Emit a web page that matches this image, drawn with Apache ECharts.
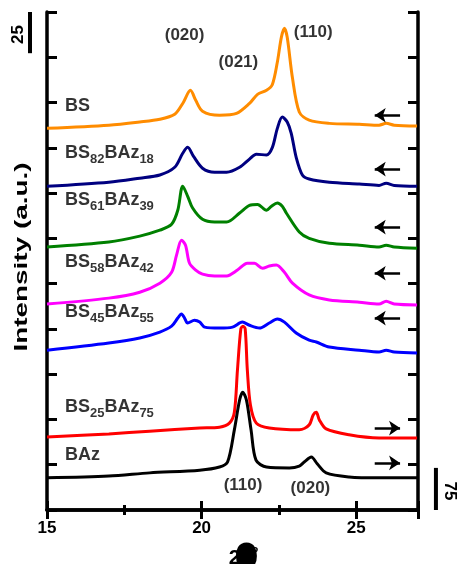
<!DOCTYPE html>
<html>
<head>
<meta charset="utf-8">
<script src="https://cdn.jsdelivr.net/npm/echarts@6/dist/echarts.min.js"></script>
<style>
  html, body { margin: 0; padding: 0; background: #fff; }
  #chart { width: 458px; height: 564px; }
</style>
</head>
<body>
<div id="chart"></div>
<script>
// XRD patterns, [2θ, intensity (a.u., offset)] per sample
const patternBS = [
  [15.00, 84.3], [17.00, 85.0], [18.00, 85.7], [18.65, 86.3], [19.13, 87.4], [19.39, 89.8],
  [19.64, 92.7], [19.81, 90.5], [20.03, 88.1], [20.58, 87.2], [21.13, 87.6], [21.55, 89.8],
  [21.81, 91.8], [22.10, 92.7], [22.29, 94.0], [22.45, 98.9], [22.58, 104.4], [22.68, 106.4],
  [22.77, 104.4], [22.94, 95.4], [23.16, 87.9], [23.48, 86.1], [24.13, 85.4], [25.10, 85.2],
  [25.74, 85.0], [25.97, 85.4], [26.23, 85.0], [26.97, 84.8]
];
const patternBS82 = [
  [15.00, 71.5], [17.00, 72.4], [18.00, 73.3], [18.65, 74.0], [19.13, 75.7], [19.39, 78.8],
  [19.55, 80.1], [19.74, 78.1], [20.03, 75.5], [20.42, 74.6], [20.81, 74.6], [21.23, 75.7],
  [21.55, 77.5], [21.77, 78.6], [22.10, 78.4], [22.29, 80.1], [22.45, 84.3], [22.61, 86.8],
  [22.77, 85.7], [22.90, 83.2], [23.06, 77.9], [23.26, 74.0], [23.48, 73.1], [24.13, 72.4],
  [25.10, 72.0], [25.74, 71.7], [25.97, 72.2], [26.23, 71.7], [26.97, 71.5]
];
const patternBS61 = [
  [15.00, 58.1], [17.00, 59.2], [18.00, 60.5], [18.65, 61.8], [19.03, 63.1], [19.23, 66.2],
  [19.39, 71.5], [19.55, 69.3], [19.71, 66.7], [20.03, 64.2], [20.42, 63.6], [20.81, 63.6],
  [21.23, 65.6], [21.55, 67.3], [21.81, 67.5], [22.10, 66.2], [22.26, 67.1], [22.45, 67.8],
  [22.61, 67.1], [22.74, 65.6], [23.16, 61.4], [23.48, 60.0], [24.13, 58.9], [25.10, 58.5],
  [25.74, 58.1], [25.97, 58.5], [26.23, 58.1], [26.97, 57.8]
];
const patternBS58 = [
  [15.00, 45.5], [17.00, 46.8], [18.00, 48.1], [18.65, 50.1], [19.03, 52.5], [19.19, 56.3],
  [19.35, 59.6], [19.48, 58.5], [19.61, 54.5], [19.81, 53.0], [20.03, 52.1], [20.42, 51.7],
  [20.81, 51.7], [21.16, 53.0], [21.48, 54.5], [21.71, 54.5], [21.97, 53.4], [22.19, 53.9],
  [22.42, 54.1], [22.68, 52.5], [22.94, 50.1], [23.48, 47.5], [24.13, 46.4], [25.10, 45.9],
  [25.74, 45.5], [25.97, 46.1], [26.23, 45.5], [26.97, 45.3]
];
const patternBS45 = [
  [15.00, 35.3], [17.00, 36.9], [18.00, 38.0], [18.65, 39.3], [19.03, 40.6], [19.23, 42.4],
  [19.35, 43.3], [19.45, 42.4], [19.55, 41.3], [19.77, 41.9], [19.94, 41.5], [20.10, 40.4],
  [20.58, 40.2], [21.00, 40.4], [21.32, 41.5], [21.55, 40.8], [21.87, 40.2], [22.19, 41.3],
  [22.45, 42.2], [22.68, 41.5], [23.06, 39.1], [23.48, 37.5], [23.71, 37.1], [24.13, 36.0],
  [25.10, 35.3], [25.74, 34.9], [25.97, 35.3], [26.23, 34.9], [26.97, 34.7]
];
const patternBS25 = [
  [15.00, 16.1], [17.00, 16.8], [18.32, 17.4], [19.94, 18.1], [20.58, 18.3], [20.90, 19.2],
  [21.06, 21.6], [21.16, 30.9], [21.27, 40.0], [21.34, 40.6], [21.41, 40.0], [21.48, 30.9],
  [21.58, 23.2], [21.77, 19.2], [22.19, 18.1], [23.16, 17.7], [23.48, 18.8], [23.61, 21.0],
  [23.71, 21.6], [23.81, 19.9], [24.03, 17.9], [24.77, 16.6], [25.74, 15.9], [26.97, 15.9]
];
const patternBAz = [
  [15.00, 7.1], [17.00, 7.5], [18.32, 8.2], [19.94, 8.8], [20.58, 9.5], [20.84, 10.6],
  [21.06, 17.7], [21.23, 24.3], [21.33, 26.0], [21.45, 24.3], [21.60, 17.7], [21.76, 11.0],
  [22.10, 9.5], [22.84, 9.3], [23.16, 9.7], [23.32, 10.6], [23.55, 11.7], [23.74, 10.2],
  [24.03, 8.2], [24.77, 7.3], [25.74, 7.1], [26.97, 7.1]
];

// sample names (rich text: {b|..} normal, {s|..} subscript)
const sampleNames = [
  '{b|BS}',
  '{b|BS}{s|82}{b|BAz}{s|18}',
  '{b|BS}{s|61}{b|BAz}{s|39}',
  '{b|BS}{s|58}{b|BAz}{s|42}',
  '{b|BS}{s|45}{b|BAz}{s|55}',
  '{b|BS}{s|25}{b|BAz}{s|75}',
  '{b|BAz}'
];
const sampleColors = ['#ff8c00', '#000080', '#008000', '#ff00ff', '#0000ff', '#ff0000', '#000000'];
const patterns = [patternBS, patternBS82, patternBS61, patternBS58, patternBS45, patternBS25, patternBAz];
const nameAnchorX = 15.58;
const nameAnchorY = [89.2, 78.8, 68.4, 54.7, 43.7, 22.7, 12.1];

// reflection indices
const peakNames = ['(020)', '(021)', '(110)', '(110)', '(020)'];
const peakAnchors = [[19.45, 104.9], [21.19, 98.9], [23.61, 105.5], [21.34, 5.5], [23.52, 4.9]];

// arrows: row level and direction (-1 = left, +1 = right)
const arrowRows = [87.2, 75.3, 62.5, 52.3, 42.4, 18.1, 10.4];
const arrowDirs = [-1, -1, -1, -1, -1, 1, 1];
const arrowSpan = [25.6, 26.42];

// intensity scale bars: value, 2θ position, from/to intensity
const scaleBars = [
  { value: '25', x: 14.45, from: 110, to: 100.9, side: 'left' },
  { value: '75', x: 27.58, from: 0, to: 9.3, side: 'right' }
];

const FONT = 'Liberation Sans, Arial, sans-serif';
const chart = echarts.init(document.getElementById('chart'), null, { renderer: 'canvas' });

const axisLine = { show: true, lineStyle: { color: '#000', width: 3.5 } };
const xAxisBase = {
  type: 'value', min: 15, max: 27, interval: 5,
  axisLine, splitLine: { show: false },
  axisTick: { show: true, inside: true, length: 9, lineStyle: { color: '#000', width: 3 } },
  minorTick: { show: true, splitNumber: 2, length: 5, lineStyle: { color: '#000', width: 3 } }
};
const yAxisBase = {
  type: 'value', min: 0, max: 110, interval: 10,
  axisLine, splitLine: { show: false },
  axisTick: { show: true, inside: true, length: 10, lineStyle: { color: '#000', width: 3 } },
  axisLabel: { show: false }
};

const series = patterns.map((data, i) => ({
  type: 'line', data, showSymbol: false, smooth: 0.3, clip: true,
  lineStyle: { color: sampleColors[i], width: 3 }, itemStyle: { color: sampleColors[i] },
  z: 3
}));

series.push({
  type: 'scatter', symbolSize: 0, silent: true, z: 5,
  data: nameAnchorY.map((y, i) => ({ value: [nameAnchorX, y], label: { formatter: sampleNames[i] } })),
  label: {
    show: true, position: [0, 0], align: 'left', verticalAlign: 'middle',
    rich: {
      b: { fontFamily: FONT, fontWeight: 'bold', fontSize: 18, color: '#000', lineHeight: 20 },
      s: { fontFamily: FONT, fontWeight: 'bold', fontSize: 13, color: '#000', padding: [13, 0, 0, 0], lineHeight: 14 }
    }
  }
});

series.push({
  type: 'scatter', symbolSize: 0, silent: true, z: 5,
  data: peakAnchors.map((p, i) => ({ value: p, label: { formatter: peakNames[i] } })),
  label: {
    show: true, position: [0, 0], align: 'center', verticalAlign: 'middle',
    fontFamily: FONT, fontWeight: 'bold', fontSize: 17, color: '#000'
  }
});

series.push({
  type: 'lines', coordinateSystem: 'cartesian2d', silent: true, z: 4,
  symbol: ['none', 'arrow'], symbolSize: 11,
  lineStyle: { color: '#000', width: 2.5, opacity: 1, curveness: 0 },
  data: arrowRows.map((y, i) => ({
    coords: arrowDirs[i] < 0
      ? [[arrowSpan[1], y], [arrowSpan[0], y]]
      : [[arrowSpan[0], y], [arrowSpan[1], y]]
  }))
});

chart.setOption({
  animation: false,
  backgroundColor: '#fff',
  grid: { left: 47, right: 40, top: 12, bottom: 54, containLabel: false, outerBoundsMode: 'none' },
  xAxis: [
    Object.assign({}, xAxisBase, {
      position: 'bottom',
      axisLabel: { show: true, showMaxLabel: false, margin: 10, fontFamily: FONT, fontWeight: 'bold', fontSize: 17, color: '#000' },
      name: '{n|2}{t|θ}{d|º}', nameLocation: 'middle', nameGap: 27,
      nameTextStyle: {
        padding: [0, 0, 0, 22],
        rich: {
          n: { fontFamily: FONT, fontWeight: 'bold', fontSize: 21, color: '#000' },
          t: { fontFamily: FONT, fontWeight: 'bold', fontSize: 22, color: '#000', textBorderColor: '#000', textBorderWidth: 11 },
          d: { fontFamily: FONT, fontWeight: 'bold', fontSize: 16, color: '#000', padding: [0, 0, 9, 0] }
        }
      }
    }),
    Object.assign({}, xAxisBase, { position: 'top', axisLabel: { show: false } })
  ],
  yAxis: [
    Object.assign({}, yAxisBase, { position: 'left' }),
    Object.assign({}, yAxisBase, { position: 'right' })
  ],
  series
});

// intensity scale bars drawn from the y scale, plus the stretched y-axis title
const graphics = [];
scaleBars.forEach(bar => {
  const p0 = chart.convertToPixel({ xAxisIndex: 0, yAxisIndex: 0 }, [bar.x, bar.from]);
  const p1 = chart.convertToPixel({ xAxisIndex: 0, yAxisIndex: 0 }, [bar.x, bar.to]);
  graphics.push({
    type: 'line', shape: { x1: p0[0], y1: p0[1], x2: p1[0], y2: p1[1] },
    style: { stroke: '#000', lineWidth: 4 }
  });
  const midY = (p0[1] + p1[1]) / 2;
  const left = bar.side === 'left';
  graphics.push({
    type: 'text', x: p0[0] + (left ? -12 : 14), y: midY + 2,
    rotation: left ? Math.PI / 2 : -Math.PI / 2,
    style: { text: bar.value, font: 'bold 17px ' + FONT, fill: '#000', align: 'center', verticalAlign: 'middle' }
  });
});
const gridTop = chart.convertToPixel({ yAxisIndex: 0 }, 110);
const gridBottom = chart.convertToPixel({ yAxisIndex: 0 }, 0);
graphics.push({
  type: 'text', x: 22, y: (gridTop + gridBottom) / 2 - 4,
  rotation: Math.PI / 2, scaleX: 1.55, scaleY: 1.05,
  style: { text: 'Intensity (a.u.)', font: 'bold 18px ' + FONT, fill: '#000', align: 'center', verticalAlign: 'middle' }
});
chart.setOption({ graphic: graphics });
</script>
</body>
</html>
